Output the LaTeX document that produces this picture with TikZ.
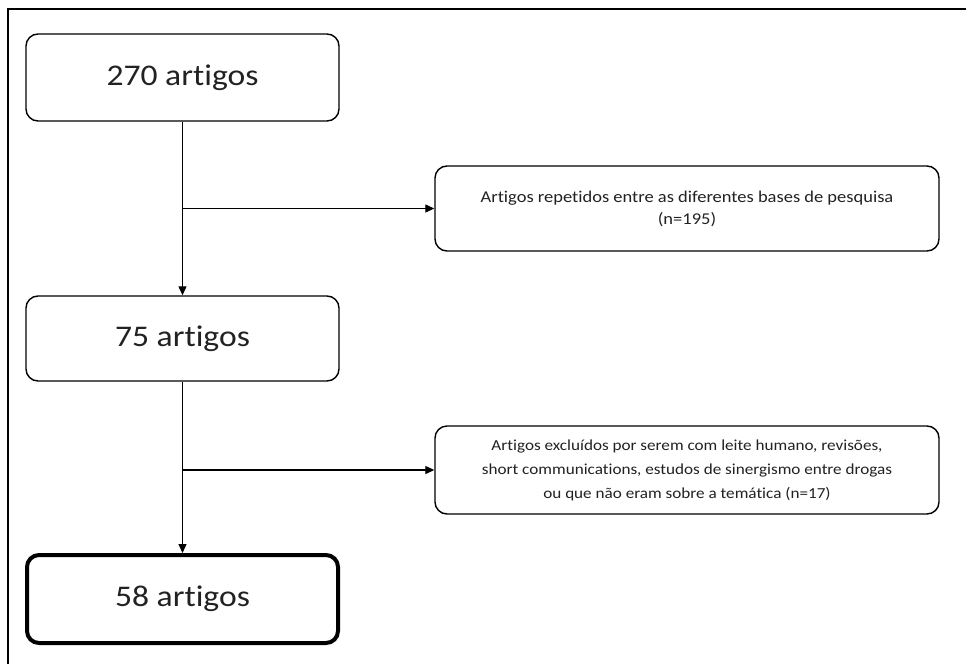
\documentclass[tikz,border=0pt]{standalone}
\usepackage{fontspec}
\setmainfont{Carlito}[FakeStretch=1.12,Ligatures={NoCommon}]
\usetikzlibrary{arrows.meta}
\definecolor{txt}{HTML}{222222}
\tikzset{
  mainbox/.style={draw=black, line width=1.4pt, rounded corners=12pt, align=center,
    inner sep=0pt, minimum width=313pt, text=txt, font=\fontsize{30}{36}\selectfont},
  sidebox/.style={draw=black, line width=1.4pt, rounded corners=12pt, align=center,
    inner sep=0pt, minimum width=504pt, text=txt},
  conn/.style={draw=black, line width=1.2pt, -{Triangle[length=9pt,width=8pt]}},
  framelink/.style={draw=black, line width=2pt}
}
\begin{document}
\begin{tikzpicture}[x=1pt,y=-1pt]
\useasboundingbox (0,0) rectangle (966,664);
\fill[white] (0,0) rectangle (966,664);
\draw[framelink] (8,664) -- (8,9) -- (966,9);
\node[mainbox, minimum height=87pt] (b1) at (182.5,77.5) {270 artigos};
\node[mainbox, minimum height=85pt] (b2) at (182.5,338.5) {75 artigos};
\node[mainbox, line width=4pt, minimum width=311pt, minimum height=88pt] (b3) at (182.5,599) {58 artigos};
\node[sidebox, minimum height=85pt, font=\fontsize{16.5}{22}\selectfont] (s1) at (687,208.5) {Artigos repetidos entre as diferentes bases de pesquisa\\(n=195)};
\node[sidebox, minimum height=88pt, font=\fontsize{15.3}{24}\selectfont] (s2) at (687,470) {Artigos excluídos por serem com leite humano, revisões,\\short communications, estudos de sinergismo entre drogas\\ou que não eram sobre a temática (n=17)};
\draw[conn] (b1) -- (b2);
\draw[conn] (b2) -- (b3);
\draw[conn] (b1.south |- s1.west) -- (s1.west);
\draw[conn] (b2.south |- s2.west) -- (s2.west);
\end{tikzpicture}
\end{document}
